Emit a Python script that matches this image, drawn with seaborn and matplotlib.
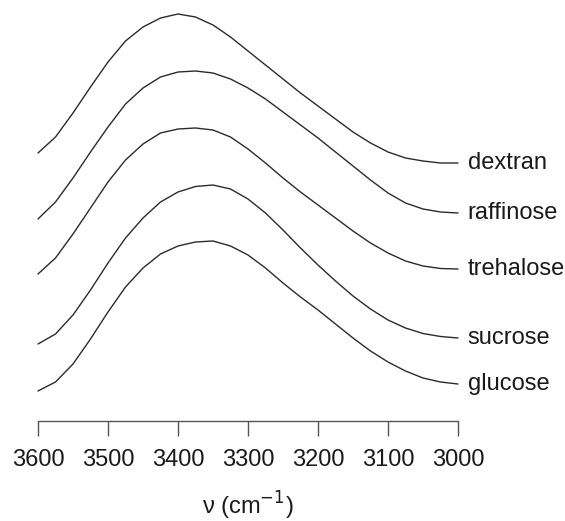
import numpy as np
import pandas as pd
import matplotlib
matplotlib.use("Agg")
import matplotlib.pyplot as plt
import seaborn as sns

# Wavenumber grid (cm^-1), every 25 cm^-1 from 3600 down to 3000
wavenumber = [3600, 3575, 3550, 3525, 3500, 3475, 3450, 3425, 3400, 3375,
              3350, 3325, 3300, 3275, 3250, 3225, 3200, 3175, 3150, 3125,
              3100, 3075, 3050, 3025, 3000]

# Stacked O-H stretch band (offset absorbance, a.u.)
dextran = [2.68, 2.84, 3.08, 3.34, 3.59, 3.80, 3.94, 4.03, 4.07, 4.04,
           3.96, 3.84, 3.70, 3.56, 3.42, 3.28, 3.15, 3.02, 2.89, 2.78,
           2.69, 2.63, 2.60, 2.58, 2.58]
raffinose = [2.02, 2.19, 2.43, 2.69, 2.94, 3.17, 3.33, 3.44, 3.49, 3.50,
             3.48, 3.42, 3.33, 3.22, 3.09, 2.96, 2.83, 2.69, 2.55, 2.41,
             2.28, 2.18, 2.12, 2.09, 2.08]
trehalose = [1.47, 1.63, 1.87, 2.13, 2.39, 2.61, 2.77, 2.88, 2.92, 2.93,
             2.91, 2.84, 2.72, 2.58, 2.43, 2.29, 2.16, 2.03, 1.90, 1.78,
             1.68, 1.60, 1.55, 1.525, 1.52]
sucrose = [0.77, 0.87, 1.06, 1.31, 1.58, 1.83, 2.03, 2.19, 2.29, 2.345,
           2.36, 2.32, 2.22, 2.08, 1.91, 1.73, 1.56, 1.40, 1.25, 1.12,
           1.01, 0.93, 0.875, 0.845, 0.83]
glucose = [0.30, 0.39, 0.57, 0.82, 1.09, 1.34, 1.53, 1.67, 1.75, 1.79,
           1.80, 1.75, 1.66, 1.53, 1.38, 1.24, 1.11, 0.97, 0.83, 0.70,
           0.59, 0.50, 0.43, 0.39, 0.37]

sugars = ["dextran", "raffinose", "trehalose", "sucrose", "glucose"]
series = [dextran, raffinose, trehalose, sucrose, glucose]
x_ticks = [3600, 3500, 3400, 3300, 3200, 3100, 3000]

df = pd.concat(
    [pd.DataFrame({"wavenumber": wavenumber, "absorbance": s, "sugar": name})
     for name, s in zip(sugars, series)],
    ignore_index=True,
)

sns.set_theme(style="white")
plt.rcParams["font.family"] = ["Liberation Sans", "DejaVu Sans"]

W, H = 565, 521
fig = plt.figure(figsize=(W / 100, H / 100), dpi=100)
ax = fig.add_axes([38 / W, (H - 421) / H, 420 / W, 421 / H])

line_col = "#2b2b2b"
sns.lineplot(data=df, x="wavenumber", y="absorbance", hue="sugar",
             hue_order=sugars, palette=[line_col] * len(sugars),
             legend=False, linewidth=1.0, ax=ax, sort=False)
for ln in ax.get_lines():
    ln.set_clip_on(False)
    ln.set_solid_joinstyle("round")

ax.set_xlim(3600, 3000)
ax.set_ylim(0, 4.21)

# Curve names at the right-hand end of each trace
for name, s in zip(sugars, series):
    ax.text(2986, s[-1], name, fontsize=17, color="#1a1a1a",
            va="center", ha="left", clip_on=False)

for side in ["top", "right", "left"]:
    ax.spines[side].set_visible(False)
ax.spines["bottom"].set_color("#555555")
ax.spines["bottom"].set_linewidth(1.0)
ax.spines["bottom"].set_bounds(3600, 3000)

ax.set_yticks([])
ax.set_xticks(x_ticks)
ax.set_xticklabels([str(t) for t in x_ticks])
ax.tick_params(axis="x", direction="out", length=11, width=1.0,
               color="#555555", labelsize=17, labelcolor="#1a1a1a", pad=9,
               bottom=True)

ax.set_xlabel("ν (cm$^{-1}$)", fontsize=17, color="#1a1a1a", labelpad=14)
ax.set_ylabel("")

fig.savefig("out.png", dpi=100)
